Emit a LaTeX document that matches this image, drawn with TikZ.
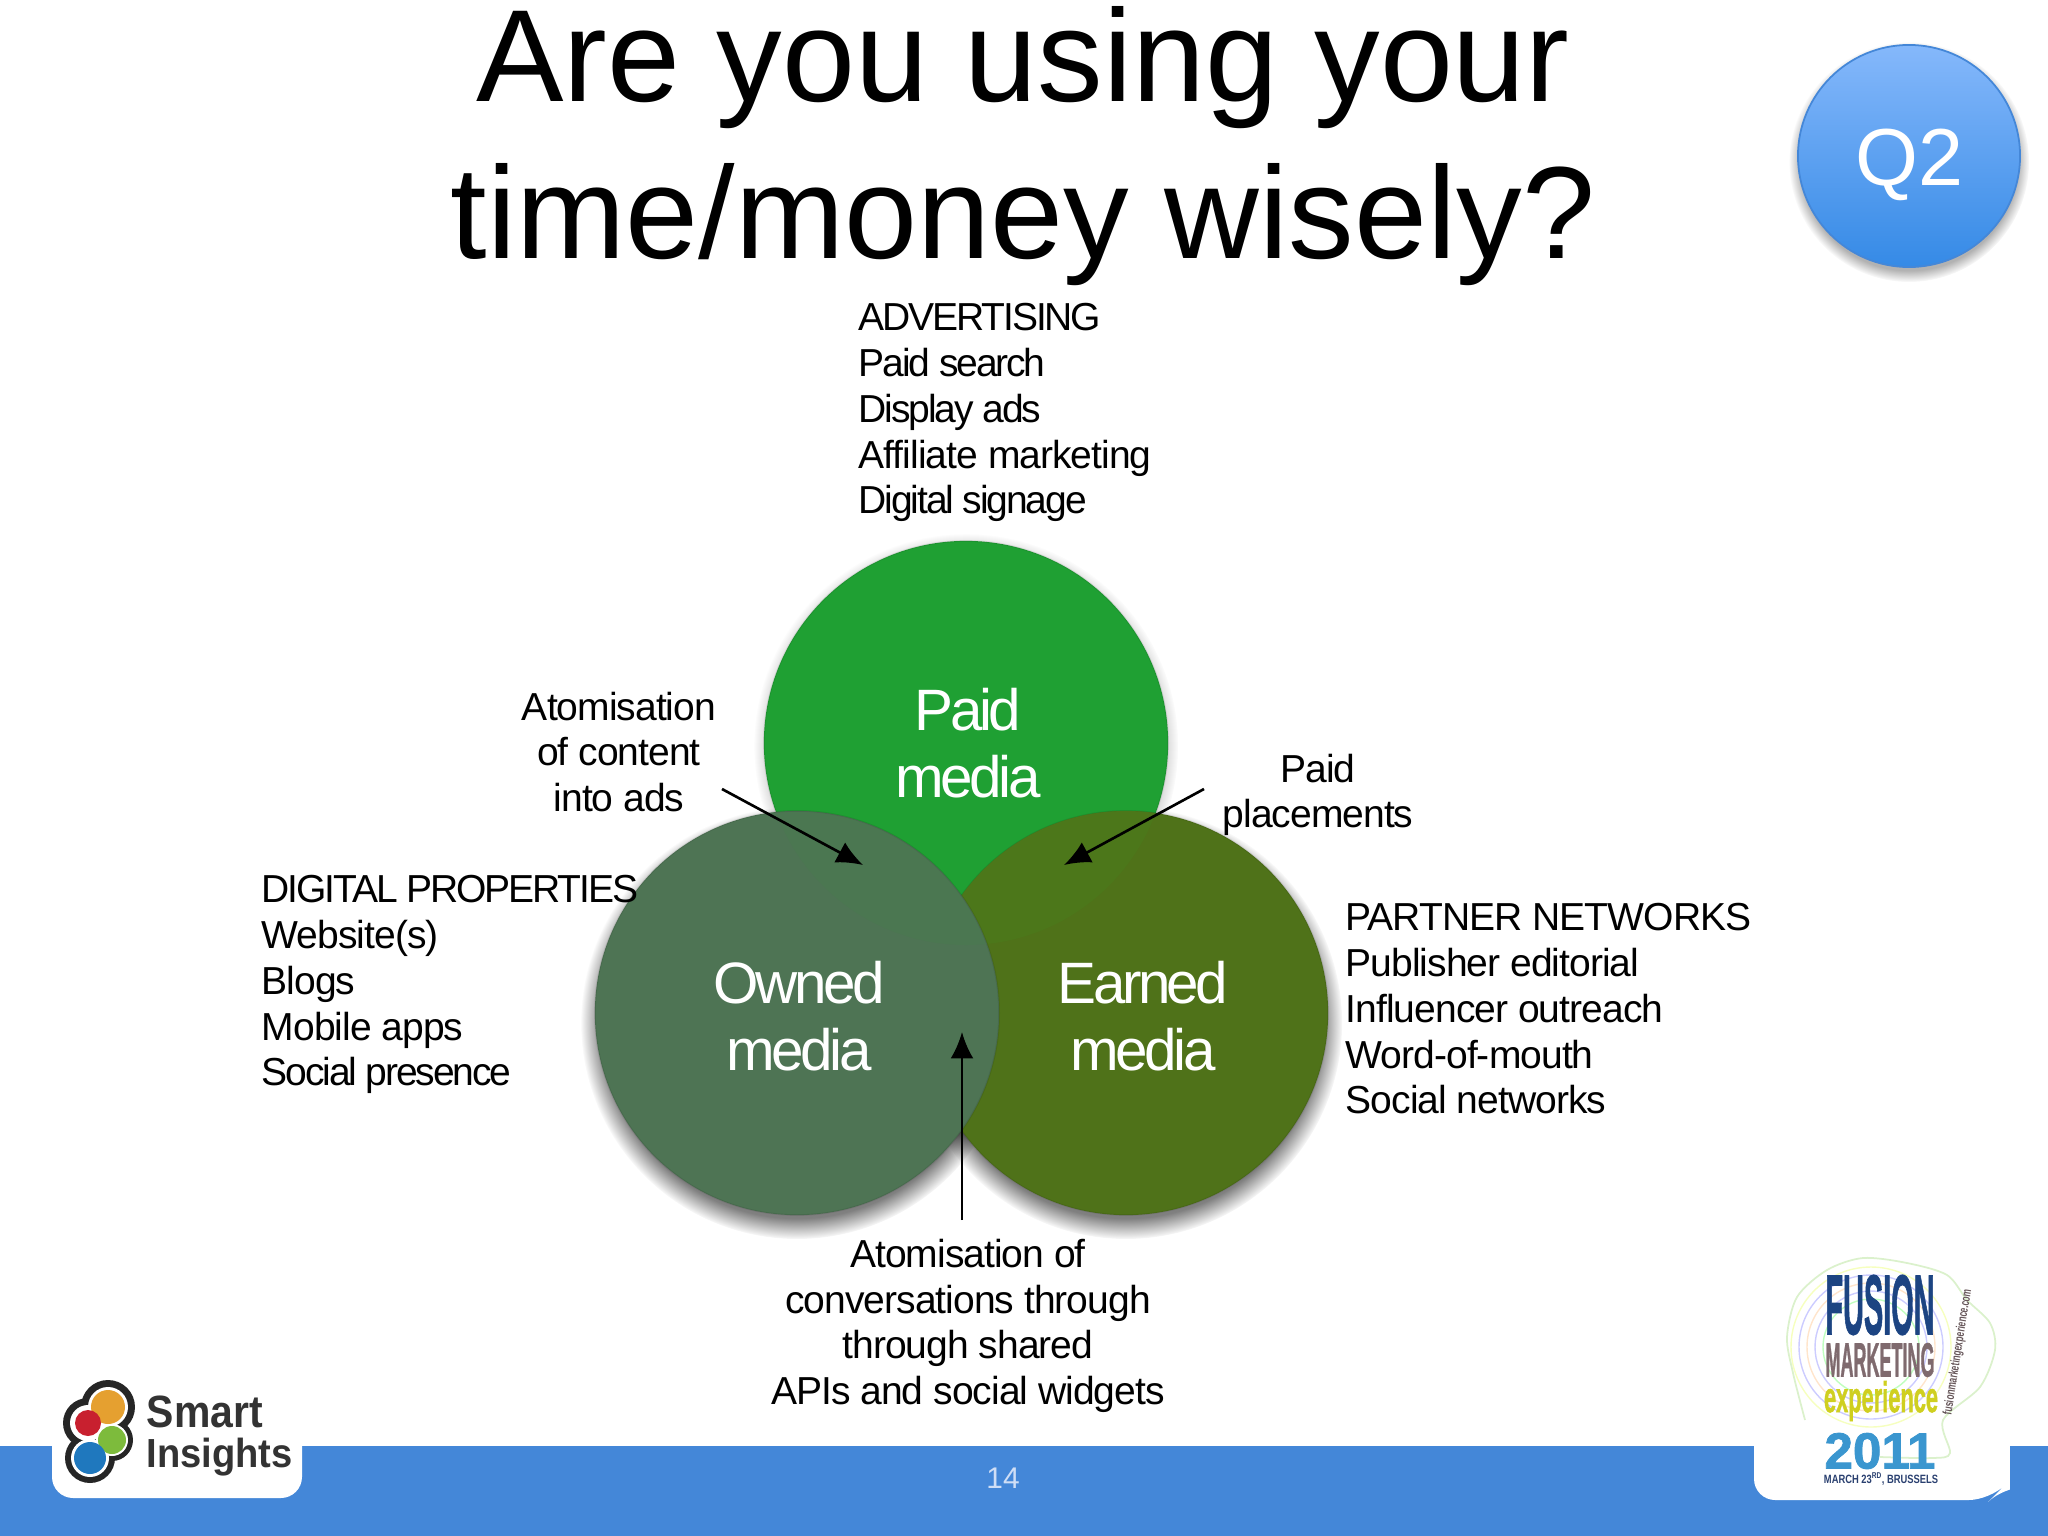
\documentclass[tikz,border=0pt]{standalone}
\usepackage{fontspec}
\setmainfont{Liberation Sans}
\newfontfamily\bodyfont[LetterSpace=-2.5]{Liberation Sans}
\newfontfamily\tightfont[LetterSpace=-5.5]{Liberation Sans}
\newfontfamily\mediafont[LetterSpace=-6]{Liberation Sans}
\usetikzlibrary{arrows.meta,fadings,shadings}
\definecolor{paidgreen}{HTML}{1FA033}
\definecolor{ownedgreen}{HTML}{4E7454}
\definecolor{earnedgreen}{HTML}{4F7219}
\definecolor{ownedover}{HTML}{4B7751}
\definecolor{earnedover}{HTML}{4C771A}
\definecolor{barblue}{HTML}{4487D8}
\definecolor{quiztop}{HTML}{85B8FB}
\definecolor{quizbottom}{HTML}{358AE6}
\definecolor{logoorange}{HTML}{E5A030}
\definecolor{logored}{HTML}{C8202F}
\definecolor{logogreen}{HTML}{7DBB3C}
\definecolor{logoblue}{HTML}{1F78BE}
\definecolor{fusionblue}{HTML}{1C4482}
\definecolor{fusiongrey}{HTML}{7F6A6E}
\definecolor{fusionyellow}{HTML}{CFCF20}
\definecolor{fusionsky}{HTML}{3A96CF}
\definecolor{fusionnavy}{HTML}{2A4070}
\tikzset{
  title/.style={inner sep=0pt,align=center,font=\fontsize{37.3}{44.7}\selectfont},
  body/.style={inner sep=0pt,align=left,font=\bodyfont\fontsize{11.1}{13}\selectfont},
  bodyc/.style={body,align=center},
  media/.style={inner sep=0pt,align=center,text=white,font=\mediafont\fontsize{16.6}{19}\selectfont},
  ball/.style={circle,inner sep=0pt,minimum size=4.04cm,draw=black,draw opacity=.08,line width=.5pt},
  fuzzy/.style={fill=black,opacity=.5,path fading=circle with fuzzy edge 10 percent},
  pointer/.style={-{Latex[length=7.5pt,width=6.5pt]},line width=.75pt},
  logo/.style={inner sep=0pt,font=\bfseries},
  heavy/.style={inner sep=0pt,font=\bfseries\addfontfeature{FakeBold=1.5}},
}
\begin{document}
\begin{tikzpicture}[x=.01cm,y=-.01cm]
\useasboundingbox (0,0) rectangle (2048,1536);
\fill[barblue] (0,1446) rectangle (2048,1536);
\fill[white,rounded corners=6pt] (52,1420) -- (52,1498) -- (302,1498) -- (302,1420) -- cycle;
\fill[white,rounded corners=6pt] (1754,1420) -- (1754,1500) -- (1990,1500) -- (2003,1487) -- (2040,1487) -- (2040,1420) -- cycle;
\fill[barblue] (2010,1446) rectangle (2048,1536);
\node[title] (heading) at (1023,146) {Are you using your\\time/money wisely?};

\fill[fuzzy,opacity=.3] (1909,162) circle (120);
\node[circle,inner sep=0pt,minimum size=2.22cm,top color=quiztop,bottom color=quizbottom,draw=barblue,line width=.5pt] (quiz) at (1909,156) {};
\node[inner sep=0pt,text=white,font=\fontsize{23}{26}\selectfont] (quiztext) at (1909,165) {Q2};

\fill[fuzzy,opacity=.25] (966,746) circle (212);
\fill[fuzzy] (797,1023) circle (216);
\fill[fuzzy] (1126,1023) circle (216);
\node[ball,fill=paidgreen] (paid) at (966,743) {};
\node[ball,fill=earnedgreen] (earned) at (1126,1013) {};
\begin{scope}
\clip (966,743) circle (202);
\fill[earnedover] (1126,1013) circle (202);
\end{scope}
\node[ball,fill=ownedgreen] (owned) at (797,1013) {};
\begin{scope}
\clip (966,743) circle (202);
\fill[ownedover] (797,1013) circle (201);
\end{scope}
\node[media] (paidtext) at (968,743) {Paid\\media};
\node[media] (ownedtext) at (799,1016) {Owned\\media};
\node[media] (earnedtext) at (1143,1016) {Earned\\media};

\node[body,anchor=north west] (advertising) at (858,303) {{\tightfont ADVERTISING}\\{\tightfont Paid search}\\{\tightfont Display ads}\\Affiliate marketing\\{\tightfont Digital signage}};
\node[bodyc] (content) at (619,752) {Atomisation\\of content\\into ads};
\node[bodyc] (placements) at (1318,795) {Paid\\placements};
\node[body,anchor=north west] (digital) at (261,875) {{\tightfont DIGITAL PROPERTIES}\\Website(s)\\Blogs\\Mobile apps\\{\tightfont Social presence}};
\node[body,anchor=north west] (partner) at (1345,903) {PARTNER NETWORKS\\Publisher editorial\\Influencer outreach\\Word-of-mouth\\Social networks};
\node[bodyc] (conversations) at (968,1326) {Atomisation of\\conversations through\\through shared\\APIs and social widgets};

\coordinate (contenttail) at (722,789);
\coordinate (contenttip) at (863,865);
\coordinate (placementstail) at (1204,789);
\coordinate (placementstip) at (1064,865);
\coordinate (sharedtail) at (962,1220);
\coordinate (sharedtip) at (962,1032);
\draw[pointer] (contenttail) -- (contenttip);
\draw[pointer] (placementstail) -- (placementstip);
\draw[pointer] (sharedtail) -- (sharedtip);

\node[inner sep=0pt,text=blue!8!barblue!25!white,font=\fontsize{8.5}{10}\selectfont] (pagenumber) at (1003,1478) {14};

\foreach \x/\y/\r in {108/1407/27,88/1423/25,112/1440/21,90/1458/25}
  \fill[black!85] (\x,\y) circle (\r);
\foreach \x/\y/\r in {108/1407/20,88/1423/18,112/1440/16,90/1458/19}
  \fill[white] (\x,\y) circle (\r);
\foreach \x/\y/\r/\c in {108/1407/17/logoorange,88/1423/13/logored,112/1440/14/logogreen,90/1458/16/logoblue}
  \fill[\c] (\x,\y) circle (\r);
\node[logo,anchor=north west,text=black!80] (smart) at (146,1395) {\resizebox*{1.16cm}{.32cm}{Smart}};
\node[logo,anchor=north west,text=black!80] (insights) at (146,1437) {\resizebox*{1.46cm}{.38cm}{Insights}};

\foreach \r/\c in {80/green!15!yellow!25,72/blue!20,64/orange!20,56/blue!20,48/green!25}
  \draw[\c,line width=.4pt] (1871,1347) circle (\r);
\draw[yellow!30!green!20,line width=.5pt] plot[smooth] coordinates {(1805,1420) (1793,1373) (1787,1337) (1797,1297) (1827,1270) (1863,1258) (1907,1263) (1947,1275) (1967,1300) (1990,1323) (1995,1350) (1980,1387) (1943,1420) (1950,1453) (1933,1458) (1880,1457)};
\node[heavy,text=fusionblue] (fusion) at (1880,1305) {\resizebox*{1.09cm}{.60cm}{FUSION}};
\node[heavy,text=fusiongrey] (marketing) at (1880,1360) {\resizebox*{1.09cm}{.34cm}{MARKETING}};
\node[heavy,text=fusionyellow] (experience) at (1881,1401) {\resizebox*{1.14cm}{.40cm}{experience}};
\node[heavy,text=fusionsky] (year) at (1880,1451) {\resizebox*{1.11cm}{.36cm}{2011}};
\node[logo,text=fusionnavy] (march) at (1881,1479) {\resizebox*{1.14cm}{.12cm}{MARCH 23\textsuperscript{RD}, BRUSSELS}};
\node[logo,rotate=81,text=fusiongrey!80!black] (site) at (1958,1352) {\resizebox*{1.27cm}{.12cm}{fusionmarketingexperience.com}};
\end{tikzpicture}
\end{document}
